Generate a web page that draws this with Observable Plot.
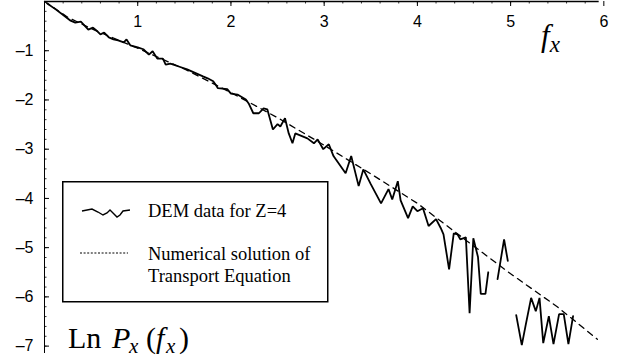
<!DOCTYPE html>
<html>
<head>
<meta charset="utf-8">
<script src="https://cdn.jsdelivr.net/npm/d3@7"></script>
<script src="https://cdn.jsdelivr.net/npm/@observablehq/plot@0.6"></script>
<style>
  html, body { margin: 0; padding: 0; background: white; }
  #wrap { position: relative; width: 629px; height: 357px; overflow: hidden; }
  #wrap > svg { position: absolute; left: 0; top: 0; }
</style>
</head>
<body>
<div id="wrap"></div>
<script>
// ---- Data ----
const xTicks = [1, 2, 3, 4, 5, 6];
const yTicks = [-1, -2, -3, -4, -5, -6, -7];

// DEM data for Z=4 (null = gap)
const demX = [0.03,0.12,0.19,0.28,0.33,0.39,0.44,0.47,0.52,0.57,
  0.60,0.64,0.69,0.74,0.79,0.85,0.88,0.92,1.00,1.06,
  1.12,1.16,1.21,1.27,1.30,1.35,1.44,1.53,1.70,1.75,
  1.81,1.84,1.86,1.96,2.00,2.07,2.16,2.19,2.24,2.30,
  2.35,2.39,2.45,2.50,2.53,2.58,2.62,2.66,2.69,2.82,
  2.89,2.93,2.99,3.05,3.10,3.23,3.29,3.37,3.42,3.50,
  3.61,3.69,3.73,3.79,3.82,3.90,3.95,4.00,4.06,4.12,
  4.20,4.25,4.28,4.34,4.39,4.43,4.46,4.52,4.56,4.60,
  4.65,4.68,4.73,4.76,4.81,4.86,4.93,4.97,5.02,
  5.06,5.12,5.16,5.22,5.27,5.31,5.35,5.41,5.46,5.52,5.57,5.62,5.67];
const demY = [-0.04,-0.16,-0.26,-0.39,-0.43,-0.41,-0.51,-0.57,-0.53,-0.61,
  -0.67,-0.63,-0.73,-0.77,-0.79,-0.83,-0.77,-0.89,-0.93,-0.97,
  -1.08,-1.01,-1.16,-1.16,-1.28,-1.26,-1.32,-1.38,-1.52,-1.56,
  -1.62,-1.70,-1.76,-1.78,-1.87,-1.89,-1.99,-2.07,-2.27,-2.27,
  -2.17,-2.19,-2.60,-2.49,-2.54,-2.37,-2.68,-2.88,-2.68,-2.78,
  -2.88,-2.80,-3.00,-2.90,-3.14,-3.49,-3.14,-3.75,-3.41,-3.71,
  -4.10,-3.81,-4.02,-3.65,-4.04,-4.40,-4.16,-4.26,-4.20,-4.56,
  -4.42,-4.60,-4.73,-5.44,-4.71,-4.73,-4.83,-4.79,-6.33,-4.81,
  -5.19,-5.94,-5.94,-5.50,null,-5.64,-4.83,-5.27,null,
  -6.37,-6.98,-6.59,-6.02,-6.29,-6.02,-6.94,-6.39,-6.96,-6.35,-6.35,-6.96,-6.39];

// Numerical solution of Transport Equation
const numX = [0, 0.25, 0.5, 1, 1.5, 2, 2.5, 3, 3.5, 4, 4.5, 5, 5.5, 5.93];
const numY = [0, -0.32, -0.55, -0.95, -1.37, -1.85, -2.36, -2.92, -3.5, -4.1, -4.82, -5.53, -6.2, -6.86];

// ---- Build ----
const dem = demX.map((x, i) => ({x, y: demY[i]}));
const num = numX.map((x, i) => ({x, y: numY[i]}));
const xMinor = d3.range(0, 30).map(i => i * 0.2);
const yMinor = d3.range(0, 36).map(i => -i * 0.2);

const W = 629, H = 357, ML = 44, MR = 21, MT = 1, MB = 4;
const xDom = [0, 6.05], yDom = [-7.15, 0];
const pxPerX = (W - ML - MR) / (xDom[1] - xDom[0]);
const pxPerY = (H - MT - MB) / (yDom[1] - yDom[0]);

const chart = Plot.plot({
  width: W, height: H,
  marginLeft: ML, marginRight: MR, marginTop: MT, marginBottom: MB,
  x: {domain: xDom, axis: null},
  y: {domain: yDom, axis: null},
  style: {background: "white", color: "black", fontFamily: "'Liberation Sans', Arial, sans-serif", fontSize: "16px", overflow: "visible"},
  marks: [
    // axes
    Plot.ruleY([0], {x1: 0, x2: 5.95, stroke: "black", strokeWidth: 1.5}),
    Plot.ruleX([0], {y1: yDom[0], y2: 0, stroke: "black", strokeWidth: 1}),
    Plot.ruleX(xMinor, {x: d => d, y1: 0, y2: -2.5 / pxPerY, stroke: "black", strokeWidth: 0.8}),
    Plot.ruleX(xTicks, {x: d => d, y1: 0, y2: -5 / pxPerY, stroke: "black", strokeWidth: 1}),
    Plot.ruleY(yMinor, {y: d => d, x1: 0, x2: 2.5 / pxPerX, stroke: "black", strokeWidth: 0.8}),
    Plot.ruleY(yTicks, {y: d => d, x1: 0, x2: 5 / pxPerX, stroke: "black", strokeWidth: 1}),
    Plot.text(xTicks, {x: d => d, y: 0, dy: 20, text: d => String(d), fill: "black", fontSize: 16}),
    Plot.text(yTicks, {x: 0, y: d => d, dx: -11, textAnchor: "end", text: d => "\u2013" + (-d), fill: "black", fontSize: 16}),
    // series
    Plot.line(num, {x: "x", y: "y", stroke: "black", strokeWidth: 1.3, strokeDasharray: "6,5"}),
    Plot.line(dem, {x: "x", y: "y", stroke: "black", strokeWidth: 1.8, strokeLinejoin: "miter"})
  ]
});
document.getElementById("wrap").appendChild(chart);

// ---- Overlay: legend and axis labels ----
const ns = "http://www.w3.org/2000/svg";
const ov = d3.select("#wrap").append("svg")
  .attr("xmlns", ns).attr("width", W).attr("height", H)
  .style("font-family", "'Liberation Serif', 'Times New Roman', serif");

// legend box
const lg = ov.append("g").attr("transform", "translate(62,181)");
lg.append("rect").attr("x", 0.75).attr("y", 0.75).attr("width", 265).attr("height", 120)
  .attr("fill", "white").attr("stroke", "black").attr("stroke-width", 1.5);
lg.append("polyline")
  .attr("points", "20,30 30,28 36,31 41,34 45,32 48,29 51,32 55,36 58,34 61,30 68,29")
  .attr("fill", "none").attr("stroke", "black").attr("stroke-width", 1.4);
lg.append("text").attr("x", 86).attr("y", 36).attr("font-size", 18.5).text("DEM data for Z=4");
lg.append("line").attr("x1", 18).attr("x2", 66).attr("y1", 72).attr("y2", 72)
  .attr("stroke", "black").attr("stroke-width", 1).attr("stroke-dasharray", "2,1.6");
lg.append("text").attr("x", 86).attr("y", 79).attr("font-size", 18.5).text("Numerical solution of");
lg.append("text").attr("x", 86).attr("y", 101).attr("font-size", 18.5).text("Transport Equation");

// f_x label
const fx = ov.append("text").attr("x", 541).attr("y", 46).attr("font-size", 31).attr("font-style", "italic");
fx.append("tspan").text("f");
fx.append("tspan").attr("dy", 6).attr("font-size", 23).text("x");

// Ln P_x(f_x) label
const lp = ov.append("text").attr("y", 348).attr("font-size", 30);
lp.append("tspan").attr("x", 68).text("Ln");
lp.append("tspan").attr("x", 112).attr("font-style", "italic").text("P");
lp.append("tspan").attr("x", 129).attr("dy", 5).attr("font-size", 21).attr("font-style", "italic").text("x");
lp.append("tspan").attr("x", 146).attr("dy", -5).text("(");
lp.append("tspan").attr("x", 156).attr("font-style", "italic").text("f");
lp.append("tspan").attr("x", 166).attr("dy", 5).attr("font-size", 21).attr("font-style", "italic").text("x");
lp.append("tspan").attr("x", 179).attr("dy", -5).text(")");
</script>
</body>
</html>
